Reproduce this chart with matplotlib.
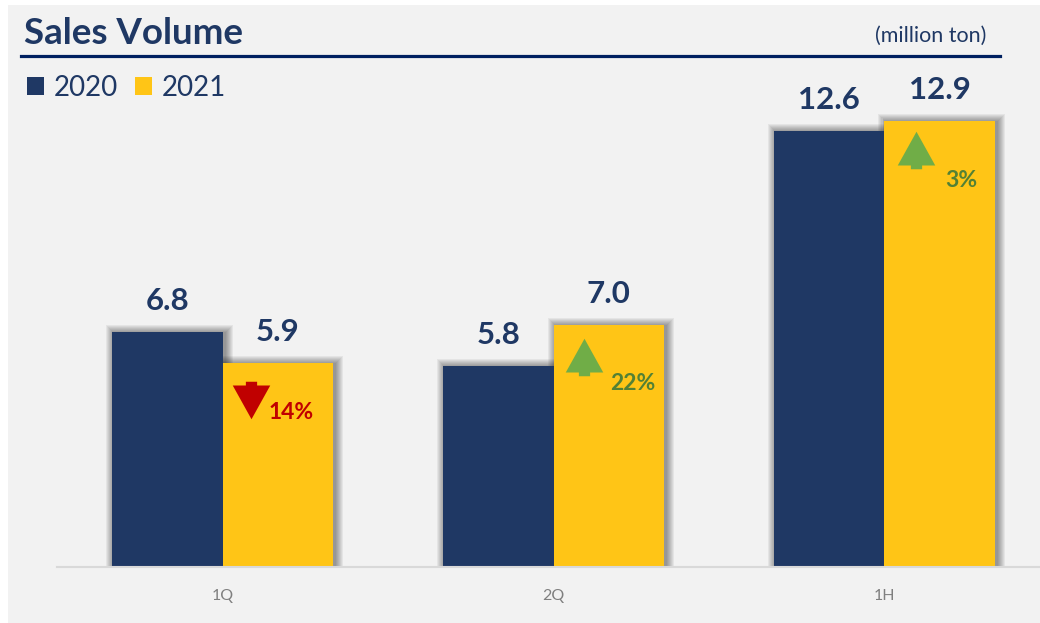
import matplotlib
matplotlib.use("Agg")
import matplotlib.pyplot as plt
from matplotlib.patches import Rectangle
from matplotlib.path import Path
from matplotlib.lines import Line2D
from matplotlib.transforms import ScaledTranslation

# ---- data ----
categories = ["1Q", "2Q", "1H"]
series_names = ["2020", "2021"]
sales_2020 = [6.8, 5.8, 12.6]
sales_2021 = [5.9, 7.0, 12.9]
change_pct = [-14, 22, 3]

# ---- style ----
NAVY = "#1f3864"
YELLOW = "#ffc516"
GREEN_TRI = "#70ad47"
GREEN_TXT = "#538135"
RED = "#c00000"
PANEL = "#f2f2f2"
FONT = "Lato"

W, H = 1040, 623
fig = plt.figure(figsize=(W / 100, H / 100), dpi=100, facecolor="white")
fig.patches.append(Rectangle((8 / W, 0), 1 - 8 / W, 1 - 5 / H, transform=fig.transFigure,
                             facecolor=PANEL, edgecolor="none", zorder=-10))

ax_left, ax_right, ax_bottom, ax_top = 57, 1040, 567, 100
ax = fig.add_axes([ax_left / W, (H - ax_bottom) / H, (ax_right - ax_left) / W, (ax_bottom - ax_top) / H])
ax.set_facecolor("none")
px_per_x = 331.0
px_per_y = 34.57
ax.set_xlim(-0.5, -0.5 + (ax_right - ax_left) / px_per_x)
ax.set_ylim(0, (ax_bottom - ax_top) / px_per_y)

bw = 0.334
xs = list(range(len(categories)))
x20 = [x - bw / 2 for x in xs]
x21 = [x + bw / 2 for x in xs]


def shadow(xc, h):
    for r in range(1, 9):
        dx = r / px_per_x
        dy = r / px_per_y
        ox = 2 / px_per_x
        ax.add_patch(Rectangle((xc - bw / 2 - dx + ox, 0), bw + 2 * dx, h + dy - 1 / px_per_y,
                               facecolor="black", edgecolor="none", alpha=0.055, zorder=1))


for xc, v in zip(x20 + x21, sales_2020 + sales_2021):
    shadow(xc, v)

b1 = ax.bar(x20, sales_2020, width=bw, color=NAVY, zorder=2, label=series_names[0])
b2 = ax.bar(x21, sales_2021, width=bw, color=YELLOW, zorder=2, label=series_names[1])

for xc, v in zip(x20 + x21, sales_2020 + sales_2021):
    ax.annotate(f"{v:.1f}", xy=(xc, v), xytext=(0, 22.5), textcoords="offset points",
                ha="center", va="center", fontsize=22.5, fontweight="bold", color=NAVY,
                family=FONT, zorder=5)

# arrow markers
up_arrow = Path([(0, 1), (1, -0.8), (0.3, -0.8), (0.3, -1), (-0.3, -1), (-0.3, -0.8), (-1, -0.8), (0, 1)],
                [Path.MOVETO] + [Path.LINETO] * 6 + [Path.CLOSEPOLY])
down_arrow = Path([(x, -y) for x, y in up_arrow.vertices], up_arrow.codes)

# layout offsets in pixels from the 2021 bar's top-left corner
tri_offsets = [(28, 37), (30, 32), (32, 29)]
txt_offsets = [(46, 49), (57, 58), (61, 59)]

for i, pct in enumerate(change_pct):
    left = x21[i] - bw / 2
    top = sales_2021[i]
    tdx, tdy = tri_offsets[i]
    tr = ax.transData + ScaledTranslation(tdx / 100, -tdy / 100, fig.dpi_scale_trans)
    ax.plot([left], [top], marker=up_arrow if pct > 0 else down_arrow, markersize=27,
            color=GREEN_TRI if pct > 0 else RED, markeredgewidth=0, transform=tr, zorder=5,
            clip_on=False)
    sdx, sdy = txt_offsets[i]
    ax.annotate(f"{abs(pct)}%", xy=(left, top), xytext=(sdx * 0.72, -sdy * 0.72),
                textcoords="offset points", ha="left", va="center", fontsize=16.5,
                fontweight="bold", color=GREEN_TXT if pct > 0 else RED, family=FONT, zorder=5)

ax.set_xticks(xs)
ax.set_xticklabels(categories, color="#7f7f7f", fontsize=11.5, family=FONT)
ax.tick_params(axis="x", length=0, pad=16)
ax.set_yticks([])
for s in ["top", "right", "left"]:
    ax.spines[s].set_visible(False)
ax.spines["bottom"].set_color("#d9d9d9")
ax.spines["bottom"].set_linewidth(1.5)
ax.spines["bottom"].set_zorder(3)

# title and underline
fig.text(24 / W, 1 - 34 / H, "Sales Volume", fontsize=26.5, fontweight="bold", color=NAVY,
         family=FONT, ha="left", va="center")
fig.add_artist(Line2D([21 / W, 1000 / W], [1 - 56 / H, 1 - 56 / H], transform=fig.transFigure,
                      color="#002060", linewidth=2.3))
fig.text(986 / W, 1 - 36 / H, "(million ton)", fontsize=15.5, color=NAVY, family=FONT,
         ha="right", va="center")

leg = ax.legend(handles=[b1, b2], loc="upper left", bbox_to_anchor=(27 / W, 1 - 75 / H),
                bbox_transform=fig.transFigure, ncol=2, frameon=False,
                handlelength=0.62, handleheight=0.62, handletextpad=0.35, columnspacing=0.6,
                borderpad=0, borderaxespad=0, prop={"family": FONT, "size": 20})
for t in leg.get_texts():
    t.set_color(NAVY)

fig.savefig("out.png", dpi=100, facecolor="white")
